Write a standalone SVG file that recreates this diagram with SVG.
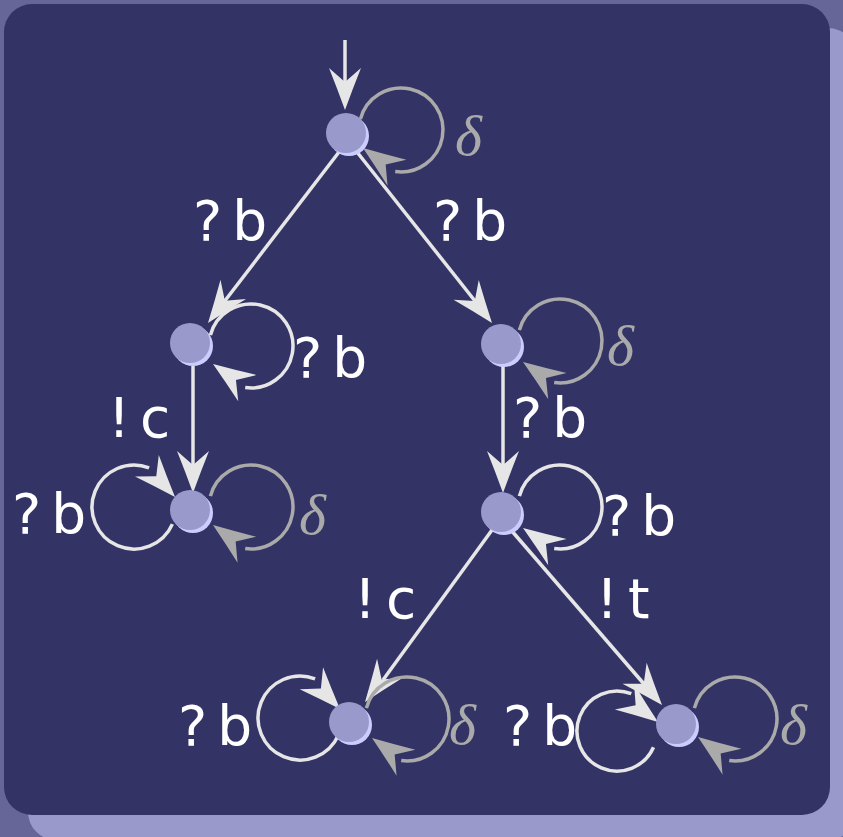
<svg xmlns="http://www.w3.org/2000/svg" xmlns:xlink="http://www.w3.org/1999/xlink" width="843" height="837" viewBox="0 0 843 837">
<style>
.lt{fill:none;stroke:#e6e6e6;stroke-width:3.5}
.gy{fill:none;stroke:#aaaaaa;stroke-width:3.5}
.ahl{fill:#e6e6e6}
.ahg{fill:#aaaaaa}
.lab{font-family:"DejaVu Sans",sans-serif;font-size:55px;fill:#ffffff;letter-spacing:10px}
.del{font-family:"Liberation Serif",serif;font-style:italic;font-size:58px;fill:#aaaaaa}
.nb{fill:#ccccff}
.nf{fill:#9999cc}
</style>
<defs>
<path id="ah" d="M0,0 Q-22,-8 -42,-16 L-28,0 L-42,16 Q-22,8 0,0Z"/>
<g id="node"><circle class="nb" cx="3" cy="3" r="20"/><circle class="nf" cx="0" cy="0" r="20"/></g>
</defs>
<rect x="0" y="0" width="843" height="837" fill="#666699"/>
<rect x="28" y="28" width="828" height="812" rx="28" fill="#9999cc"/>
<rect x="4" y="4" width="826" height="811" rx="28" fill="#333366"/>

<g id="connectors">
<line class="lt" x1="345" y1="40" x2="345" y2="84"/>
<use href="#ah" class="ahl" transform="translate(345,110) rotate(90)"/>
<line class="lt" x1="339" y1="152" x2="224" y2="302"/>
<use href="#ah" class="ahl" transform="translate(208,323) rotate(127)"/>
<line class="lt" x1="357" y1="152" x2="475" y2="301"/>
<use href="#ah" class="ahl" transform="translate(492,323) rotate(52)"/>
<line class="lt" x1="193" y1="366" x2="193" y2="466"/>
<use href="#ah" class="ahl" transform="translate(193,493) rotate(90)"/>
<line class="lt" x1="503" y1="366" x2="503" y2="466"/>
<use href="#ah" class="ahl" transform="translate(503,493) rotate(90)"/>
<line class="lt" x1="492" y1="530" x2="383" y2="680"/>
<use href="#ah" class="ahl" transform="translate(365,702) rotate(126.4)"/>
<line class="lt" x1="511" y1="530" x2="644" y2="684"/>
<use href="#ah" class="ahl" transform="translate(662,705) rotate(49.2)"/>

<path class="gy" d="M360.4,119.1 A42,42 0 1 1 395.2,171.6"/>
<use href="#ah" class="ahg" transform="translate(363,148) rotate(216)"/>
<path class="lt" d="M210.4,335.1 A42,42 0 1 1 245.2,387.6"/>
<use href="#ah" class="ahl" transform="translate(213,364) rotate(215)"/>
<path class="gy" d="M519.4,330.1 A42,42 0 1 1 554.2,382.6"/>
<use href="#ah" class="ahg" transform="translate(523,362) rotate(215)"/>
<path class="lt" d="M172.4,524.1 A42,42 0 1 1 149.1,467.8"/>
<use href="#ah" class="ahl" transform="translate(175,497) rotate(48)"/>
<path class="gy" d="M210.4,496.1 A42,42 0 1 1 245.2,548.6"/>
<use href="#ah" class="ahg" transform="translate(213,525) rotate(216)"/>
<path class="lt" d="M519.4,496.1 A42,42 0 1 1 554.2,548.6"/>
<use href="#ah" class="ahl" transform="translate(523,528) rotate(215)"/>
<path class="lt" d="M338.4,735.1 A42,42 0 1 1 315.1,678.8"/>
<use href="#ah" class="ahl" transform="translate(340,709) rotate(47)"/>
<path class="gy" d="M366.4,708.1 A42,42 0 1 1 401.2,760.6"/>
<use href="#ah" class="ahg" transform="translate(372,738) rotate(216)"/>
<path class="lt" d="M653.5,747.3 A40,40 0 1 1 631.3,693.7"/>
<use href="#ah" class="ahl" transform="translate(658,722) rotate(37)"/>
<path class="gy" d="M694.4,708.1 A42,42 0 1 1 729.2,760.6"/>
<use href="#ah" class="ahg" transform="translate(698,737) rotate(216)"/>
</g>

<g id="labels">
<text class="lab" x="193" y="240">?b</text>
<text class="lab" x="433" y="240">?b</text>
<text class="lab" x="293" y="377">?b</text>
<text class="lab" x="513" y="437">?b</text>
<text class="lab" x="108" y="437">!c</text>
<text class="lab" x="12" y="533">?b</text>
<text class="lab" x="602" y="535">?b</text>
<text class="lab" x="354" y="618">!c</text>
<text class="lab" x="596" y="618">!t</text>
<text class="lab" x="178" y="745">?b</text>
<text class="lab" x="503" y="745">?b</text>
<text class="del" x="455" y="155">δ</text>
<text class="del" x="607" y="365">δ</text>
<text class="del" x="299" y="534">δ</text>
<text class="del" x="449" y="744">δ</text>
<text class="del" x="780" y="744">δ</text>
</g>

<g id="n0"><use href="#node" transform="translate(346,133)"/></g>
<g id="n1"><use href="#node" transform="translate(190,343)"/></g>
<g id="n2"><use href="#node" transform="translate(501,344)"/></g>
<g id="n3"><use href="#node" transform="translate(190,510)"/></g>
<g id="n4"><use href="#node" transform="translate(501,512)"/></g>
<g id="n5"><use href="#node" transform="translate(349,722)"/></g>
<g id="n6"><use href="#node" transform="translate(676,724)"/></g>
</svg>
